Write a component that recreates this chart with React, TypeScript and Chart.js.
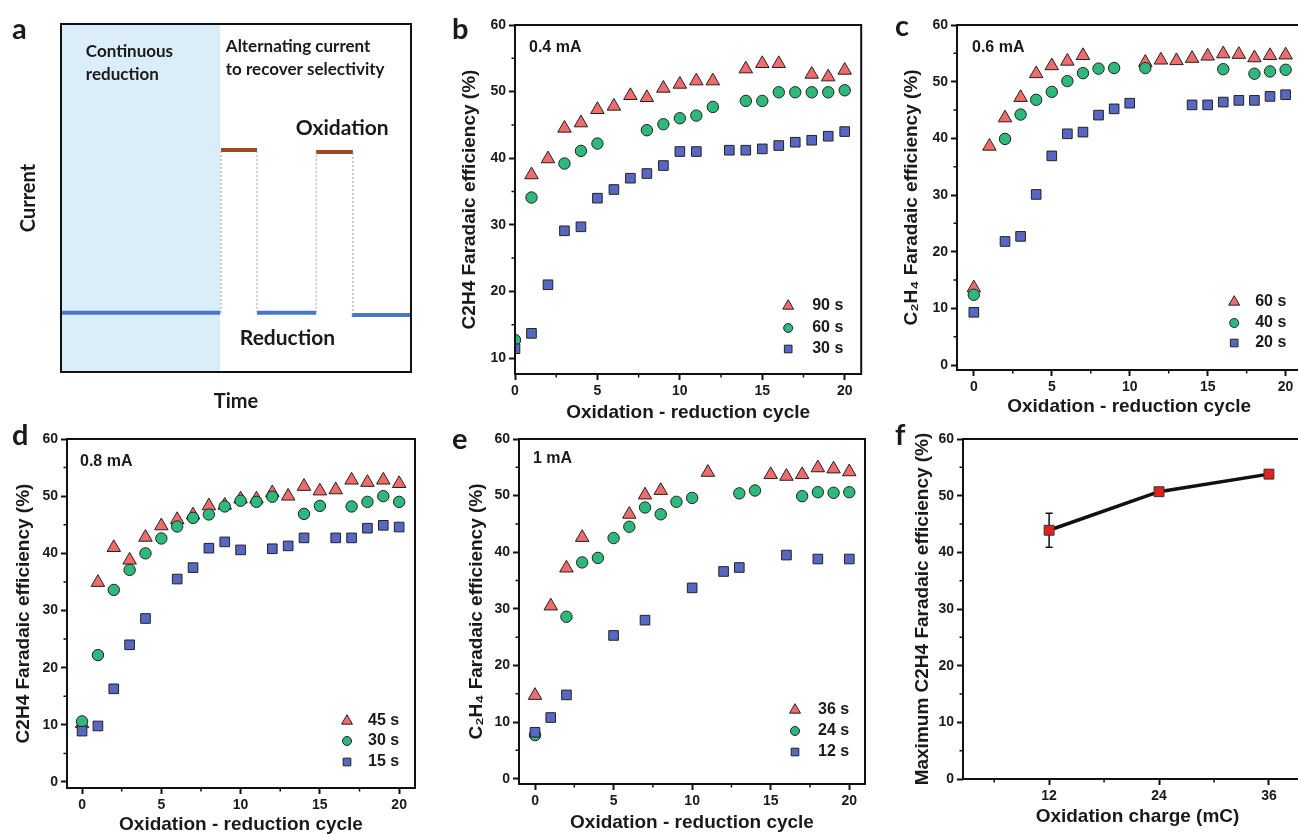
import { useEffect, useRef } from "react";
import Chart from "chart.js/auto";
import { drawPoint } from "chart.js/helpers";

const FONT = "'Liberation Sans', Arial, sans-serif";
const SCHEME_FONT = "Lato, 'Open Sans', sans-serif";
const INK = "#1a1a1a";

// ---- panel a: schematic, time / current in arbitrary units (0-100)
const continuousSpan = [0, 45.5];
const reductionSpans = [[0, 45.5], [56.0, 72.9], [83.1, 100]];
const reductionLevels = [17.0, 17.0, 16.4];
const oxidationSpans = [[45.7, 56.0], [72.9, 83.4]];
const oxidationLevels = [63.8, 63.2];

// ---- panels b-e: C2H4 FE vs oxidation-reduction cycle
const cycles = [0, 1, 2, 3, 4, 5, 6, 7, 8, 9, 10, 11, 12, 13, 14, 15, 16, 17, 18, 19, 20];

const b90 = [null, 37.5, 39.9, 44.5, 45.3, 47.3, 47.8, 49.4, 49.1, 50.5, 51.1, 51.6, 51.6, null, 53.4, 54.2, 54.2, null, 52.6, 52.2, 53.2];
const b60 = [12.7, 34.1, null, 39.2, 41.1, 42.2, null, null, 44.2, 45.1, 46.0, 46.4, 47.7, null, 48.6, 48.6, 49.9, 49.9, 49.9, 49.9, 50.2];
const b30 = [11.4, 13.7, 21.0, 29.1, 29.7, 34.0, 35.3, 37.0, 37.7, 38.9, 41.0, 41.0, null, 41.2, 41.2, 41.4, 41.9, 42.4, 42.7, 43.3, 44.0];

const c60 = [13.6, 38.6, 43.6, 47.2, 51.4, 52.8, 53.6, 54.6, null, null, null, 53.4, 53.8, 53.7, 54.1, 54.5, 54.9, 54.8, 54.2, 54.6, 54.7];
const c40 = [12.4, null, 39.9, 44.2, 46.8, 48.2, 50.1, 51.5, 52.3, 52.4, null, 52.4, null, null, null, null, 52.2, null, 51.4, 51.8, 52.1];
const c20 = [9.3, null, 21.8, 22.7, 30.1, 36.9, 40.8, 41.1, 44.1, 45.2, 46.2, null, null, null, 45.9, 45.9, 46.4, 46.7, 46.7, 47.4, 47.7];

const d45 = [10.2, 34.9, 41.0, 38.8, 42.8, 44.8, 45.9, 46.7, 48.3, 48.4, 49.5, 49.5, 50.6, 50.0, 51.7, 50.9, 51.1, 52.8, 52.4, 52.8, 52.2];
const d30 = [10.6, 22.2, 33.6, 37.1, 40.0, 42.6, 44.7, 46.2, 46.8, 48.2, 49.2, 49.0, 49.9, null, 46.9, 48.3, null, 48.2, 49.0, 50.0, 49.0];
const d15 = [8.9, 9.8, 16.3, 24.0, 28.6, null, 35.5, 37.5, 40.9, 42.0, 40.6, null, 40.8, 41.3, 42.7, null, 42.7, 42.7, 44.4, 44.9, 44.6];

const e36 = [14.7, 30.5, 37.2, 42.6, null, null, 46.7, 50.1, 50.9, null, null, 54.1, null, null, null, 53.7, 53.4, 53.7, 54.9, 54.7, 54.2];
const e24 = [7.7, null, 28.6, 38.2, 39.0, 42.5, 44.5, 47.9, 46.7, 48.9, 49.6, null, null, 50.4, 50.9, null, null, 49.9, 50.6, 50.5, 50.6];
const e12 = [8.2, 10.8, 14.8, null, null, 25.3, null, 28.0, null, null, 33.7, null, 36.6, 37.3, null, null, 39.5, null, 38.8, null, 38.8];

const cycleTicks = [0, 5, 10, 15, 20];
const cycleMinor = [2.5, 7.5, 12.5, 17.5];
const feTicks = [0, 10, 20, 30, 40, 50, 60];
const feTicksB = [10, 20, 30, 40, 50, 60];
const feMinor = [5, 15, 25, 35, 45, 55];
const feMinorB = [15, 25, 35, 45, 55];

// ---- panel f: max FE vs oxidation charge
const charges = [12, 24, 36];
const maxFE = [43.9, 50.7, 53.8];
const maxFEErr = [3.0, 0.5, 0.5];
const chargeTicks = [12, 24, 36];
const chargeMinor = [6, 18, 30];

type Box = { x: number; y: number; w: number; h: number };
type Area = { l: number; t: number; r: number; b: number };

const MARKERS = [
  { style: "triangle", r: 7.8, lr: 6.3, bg: "#f06c6c" },
  { style: "circle", r: 5.7, lr: 4.5, bg: "#2fb87d" },
  { style: "rect", r: 6.8, lr: 5.4, bg: "#5868c2" },
];

const toPoints = (xs: number[], ys: (number | null)[]) =>
  xs.flatMap((x, i) => (ys[i] == null ? [] : [{ x, y: ys[i] as number }]));

const framePlugin = {
  id: "frame",
  afterDatasetsDraw(chart: any) {
    const { ctx, chartArea: a } = chart;
    ctx.save();
    ctx.strokeStyle = "#111";
    ctx.lineWidth = 2;
    ctx.strokeRect(a.left, a.top, a.right - a.left, a.bottom - a.top);
    ctx.restore();
  },
};

const minorTicks = (xs: number[], ys: number[]) => ({
  id: "minorTicks",
  afterDraw(chart: any) {
    const { ctx, chartArea: a, scales } = chart;
    ctx.save();
    ctx.strokeStyle = "#111";
    ctx.lineWidth = 1.5;
    ctx.beginPath();
    xs.forEach((v) => {
      const px = scales.x.getPixelForValue(v);
      ctx.moveTo(px, a.bottom);
      ctx.lineTo(px, a.bottom + 3.5);
    });
    ys.forEach((v) => {
      const py = scales.y.getPixelForValue(v);
      ctx.moveTo(a.left, py);
      ctx.lineTo(a.left - 3.5, py);
    });
    ctx.stroke();
    ctx.restore();
  },
});

type Note = { text: string; x: number; y: number; ref: "data" | "area" | "canvas"; font: string; baseline?: CanvasTextBaseline };

const notes = (items: Note[]) => ({
  id: "notes",
  afterDraw(chart: any) {
    const { ctx, chartArea: a, scales } = chart;
    ctx.save();
    ctx.fillStyle = INK;
    items.forEach((n) => {
      let x = n.x;
      let y = n.y;
      if (n.ref === "data") {
        x = scales.x.getPixelForValue(n.x);
        y = scales.y.getPixelForValue(n.y);
      } else if (n.ref === "area") {
        x = a.left + n.x;
        y = a.top + n.y;
      }
      ctx.font = n.font;
      ctx.textAlign = "left";
      ctx.textBaseline = n.baseline || "middle";
      ctx.fillText(n.text, x, y);
    });
    ctx.restore();
  },
});

const legendBox = (labels: string[], mx: number, tx: number, rows: number[]) => ({
  id: "legendBox",
  afterDraw(chart: any) {
    const { ctx, chartArea: a } = chart;
    ctx.save();
    labels.forEach((label, i) => {
      const m = MARKERS[i];
      const y = a.bottom + rows[i];
      ctx.fillStyle = m.bg;
      ctx.strokeStyle = "#222";
      ctx.lineWidth = 1;
      drawPoint(ctx, { pointStyle: m.style as any, radius: m.lr, rotation: 0, borderWidth: 1 }, a.right + mx, y);
      ctx.fillStyle = INK;
      ctx.font = `bold 16px ${FONT}`;
      ctx.textAlign = "left";
      ctx.textBaseline = "middle";
      ctx.fillText(label, a.right + tx, y);
    });
    ctx.restore();
  },
});

const errorBars = {
  id: "errorBars",
  beforeDatasetsDraw(chart: any) {
    const { ctx, scales } = chart;
    ctx.save();
    ctx.strokeStyle = "#111";
    ctx.lineWidth = 1.5;
    ctx.beginPath();
    charges.forEach((c, i) => {
      const px = scales.x.getPixelForValue(c);
      const hi = scales.y.getPixelForValue(maxFE[i] + maxFEErr[i]);
      const lo = scales.y.getPixelForValue(maxFE[i] - maxFEErr[i]);
      ctx.moveTo(px, hi);
      ctx.lineTo(px, lo);
      ctx.moveTo(px - 3.5, hi);
      ctx.lineTo(px + 3.5, hi);
      ctx.moveTo(px - 3.5, lo);
      ctx.lineTo(px + 3.5, lo);
    });
    ctx.stroke();
    ctx.restore();
  },
};

type AxisOpts = {
  min: number;
  max: number;
  ticks: number[] | null;
  title: string;
  titleFont: any;
  titlePad: number;
  size: number;
};

function axis(o: AxisOpts, isX: boolean) {
  return {
    type: "linear",
    min: o.min,
    max: o.max,
    afterBuildTicks: (s: any) => {
      if (o.ticks) s.ticks = o.ticks.map((v) => ({ value: v }));
    },
    afterFit: (s: any) => {
      if (isX) s.height = o.size;
      else s.width = o.size;
      s.paddingTop = 0;
      s.paddingBottom = 0;
      s.paddingLeft = 0;
      s.paddingRight = 0;
    },
    ticks: {
      display: !!o.ticks,
      autoSkip: false,
      maxRotation: 0,
      padding: 3,
      color: INK,
      font: { family: FONT, weight: "bold", size: 14 },
    },
    grid: {
      display: !!o.ticks,
      drawOnChartArea: false,
      drawTicks: true,
      tickLength: 6,
      tickWidth: 2,
      tickColor: "#111",
    },
    border: { display: false },
    title: {
      display: true,
      text: o.title,
      color: INK,
      font: o.titleFont,
      padding: isX ? { top: 0, bottom: o.titlePad } : { top: o.titlePad, bottom: 0 },
    },
  };
}

function baseOptions(box: Box, area: Area, x: any, y: any) {
  return {
    responsive: false,
    animation: false,
    events: [],
    layout: { padding: { top: area.t, right: box.w - area.r, left: 0, bottom: 0 } },
    plugins: { legend: { display: false }, tooltip: { enabled: false } },
    scales: { x, y },
  };
}

const axisTitleFont = { family: FONT, weight: "bold", size: 19, lineHeight: 1 };
const letterFont = `bold 29px ${SCHEME_FONT}`;

type ScatterPanel = {
  box: Box;
  area: Area;
  letter: [string, number, number];
  current: string;
  currentAt: [number, number];
  series: (number | null)[][];
  labels: string[];
  xRange: [number, number];
  yRange: [number, number];
  yTicks: number[];
  yMinor: number[];
  yTitle: string;
  yTitlePad: number;
  xTitlePad: number;
  legend: [number, number, number[]];
};

const scatterPanels: ScatterPanel[] = [
  {
    box: { x: 440, y: 0, w: 430, h: 430 },
    area: { l: 75, t: 25, r: 424, b: 374 },
    letter: ["b", 12, 39],
    current: "0.4 mA",
    currentAt: [14, 23],
    series: [b90, b60, b30],
    labels: ["90 s", "60 s", "30 s"],
    xRange: [0, 21],
    yRange: [7.6, 60],
    yTicks: feTicksB,
    yMinor: feMinorB,
    yTitle: "C2H4 Faradaic efficiency (%)",
    yTitlePad: 20.5,
    xTitlePad: 7.5,
    legend: [-73, -49, [-68, -46, -25]],
  },
  {
    box: { x: 870, y: 0, w: 440, h: 430 },
    area: { l: 87, t: 25, r: 434, b: 370 },
    letter: ["c", 25, 36],
    current: "0.6 mA",
    currentAt: [15, 23],
    series: [c60, c40, c20],
    labels: ["60 s", "40 s", "20 s"],
    xRange: [-1.08, 21],
    yRange: [-0.88, 60],
    yTicks: feTicks,
    yMinor: feMinor,
    yTitle: "C\u2082H\u2084 Faradaic efficiency (%)",
    yTitlePad: 32.5,
    xTitlePad: 13.5,
    legend: [-67, -46, [-68, -47, -27]],
  },
  {
    box: { x: 0, y: 420, w: 440, h: 420 },
    area: { l: 67, t: 19, r: 415, b: 368 },
    letter: ["d", 12, 25],
    current: "0.8 mA",
    currentAt: [13, 23],
    series: [d45, d30, d15],
    labels: ["45 s", "30 s", "15 s"],
    xRange: [-0.95, 21],
    yRange: [-1.05, 60],
    yTicks: feTicks,
    yMinor: feMinor,
    yTitle: "C2H4 Faradaic efficiency (%)",
    yTitlePad: 14,
    xTitlePad: 5.5,
    legend: [-68, -47, [-67, -47, -26]],
  },
  {
    box: { x: 450, y: 420, w: 430, h: 420 },
    area: { l: 69, t: 19, r: 415, b: 364 },
    letter: ["e", 2, 29],
    current: "1 mA",
    currentAt: [14, 20],
    series: [e36, e24, e12],
    labels: ["36 s", "24 s", "12 s"],
    xRange: [-1.02, 21],
    yRange: [-0.94, 60],
    yTicks: feTicks,
    yMinor: feMinor,
    yTitle: "C\u2082H\u2084 Faradaic efficiency (%)",
    yTitlePad: 17.5,
    xTitlePad: 8,
    legend: [-70, -47, [-74, -53, -32]],
  },
];

function scatterConfig(p: ScatterPanel) {
  const x = axis(
    { min: p.xRange[0], max: p.xRange[1], ticks: cycleTicks, title: "Oxidation - reduction cycle", titleFont: axisTitleFont, titlePad: p.xTitlePad, size: p.box.h - p.area.b },
    true
  );
  const y = axis(
    { min: p.yRange[0], max: p.yRange[1], ticks: p.yTicks, title: p.yTitle, titleFont: axisTitleFont, titlePad: p.yTitlePad, size: p.area.l },
    false
  );
  return {
    type: "scatter",
    data: {
      datasets: p.series.map((vals, i) => ({
        label: p.labels[i],
        data: toPoints(cycles, vals),
        pointStyle: MARKERS[i].style,
        pointRadius: MARKERS[i].r,
        backgroundColor: MARKERS[i].bg,
        borderColor: "#222",
        borderWidth: 1,
        order: 3 - i,
        clip: 0,
      })),
    },
    options: baseOptions(p.box, p.area, x, y),
    plugins: [
      framePlugin,
      minorTicks(cycleMinor, p.yMinor),
      legendBox(p.labels, p.legend[0], p.legend[1], p.legend[2]),
      notes([
        { text: p.current, x: p.currentAt[0], y: p.currentAt[1], ref: "area", font: `bold 16px ${FONT}` },
        { text: p.letter[0], x: p.letter[1], y: p.letter[2], ref: "canvas", font: letterFont, baseline: "alphabetic" },
      ]),
    ],
  };
}

const boxA: Box = { x: 0, y: 0, w: 440, h: 430 };
const areaA: Area = { l: 61, t: 24, r: 411, b: 372 };

function schemeConfig() {
  const schemeTitle = { family: SCHEME_FONT, weight: "bold", size: 20, lineHeight: 1 };
  const x = axis({ min: 0, max: 100, ticks: null, title: "Time", titleFont: schemeTitle, titlePad: 18, size: boxA.h - areaA.b }, true);
  const y = axis({ min: 0, max: 100, ticks: null, title: "Current", titleFont: schemeTitle, titlePad: 19, size: areaA.l }, false);
  const line = (pts: { x: number; y: number }[], color: string, width: number, dash: number[] = []) => ({
    data: pts,
    borderColor: color,
    borderWidth: width,
    borderDash: dash,
    borderCapStyle: "butt",
    pointRadius: 0,
    fill: false,
  });
  const edges = oxidationSpans.flatMap((span, i) =>
    span.map((ex, j) =>
      line(
        [
          { x: ex, y: reductionLevels[i + j] },
          { x: ex, y: oxidationLevels[i] },
        ],
        "#9a9a9a",
        1,
        [2, 2]
      )
    )
  );
  const sText = `bold 17px ${SCHEME_FONT}`;
  const bigText = `bold 21px ${SCHEME_FONT}`;
  return {
    type: "line",
    data: {
      datasets: [
        {
          data: [
            { x: continuousSpan[0], y: 100 },
            { x: continuousSpan[1], y: 100 },
          ],
          borderWidth: 0,
          pointRadius: 0,
          backgroundColor: "#dcedfa",
          fill: "start",
          order: 10,
        },
        ...edges,
        ...reductionSpans.map((s, i) =>
          line(
            [
              { x: s[0], y: reductionLevels[i] },
              { x: s[1], y: reductionLevels[i] },
            ],
            "#4a76c6",
            4
          )
        ),
        ...oxidationSpans.map((s, i) =>
          line(
            [
              { x: s[0], y: oxidationLevels[i] },
              { x: s[1], y: oxidationLevels[i] },
            ],
            "#9b4a1f",
            4
          )
        ),
      ],
    },
    options: baseOptions(boxA, areaA, x, y),
    plugins: [
      framePlugin,
      notes([
        { text: "Continuous", x: 7.1, y: 92.2, ref: "data", font: sText },
        { text: "reduction", x: 7.1, y: 85.6, ref: "data", font: sText },
        { text: "Alternating current", x: 47.1, y: 93.4, ref: "data", font: sText },
        { text: "to recover selectivity", x: 47.1, y: 86.8, ref: "data", font: sText },
        { text: "Oxidation", x: 67.1, y: 70.1, ref: "data", font: bigText },
        { text: "Reduction", x: 51.1, y: 9.8, ref: "data", font: bigText },
        { text: "a", x: 12, y: 39, ref: "canvas", font: letterFont, baseline: "alphabetic" },
      ]),
    ],
  };
}

const boxF: Box = { x: 880, y: 420, w: 440, h: 420 };
const areaF: Area = { l: 83, t: 19, r: 432, b: 359 };

function maxConfig() {
  const x = axis({ min: 2.6, max: 40.7, ticks: chargeTicks, title: "Oxidation charge (mC)", titleFont: axisTitleFont, titlePad: 13.5, size: boxF.h - areaF.b }, true);
  const y = axis({ min: 0, max: 60, ticks: feTicks, title: "Maximum C2H4 Faradaic efficiency (%)", titleFont: axisTitleFont, titlePad: 33.5, size: areaF.l }, false);
  return {
    type: "line",
    data: {
      datasets: [
        {
          data: toPoints(charges, maxFE),
          borderColor: "#111",
          borderWidth: 3.5,
          pointStyle: "rect",
          pointRadius: 7,
          pointBackgroundColor: "#e3221d",
          pointBorderColor: "#333",
          pointBorderWidth: 1,
          fill: false,
        },
      ],
    },
    options: baseOptions(boxF, areaF, x, y),
    plugins: [
      errorBars,
      framePlugin,
      minorTicks(chargeMinor, feMinor),
      notes([{ text: "f", x: 15, y: 25, ref: "canvas", font: letterFont, baseline: "alphabetic" }]),
    ],
  };
}

function Panel({ box, build }: { box: Box; build: () => any }) {
  const canvasRef = useRef<HTMLCanvasElement | null>(null);
  useEffect(() => {
    if (!canvasRef.current) return;
    const chart = new Chart(canvasRef.current, build());
    return () => chart.destroy();
  }, []);
  return (
    <canvas
      ref={canvasRef}
      width={box.w}
      height={box.h}
      style={{ position: "absolute", left: box.x, top: box.y, width: box.w, height: box.h }}
    />
  );
}

export default function App() {
  return (
    <div style={{ position: "fixed", left: 0, top: 0, width: 1298, height: 834, overflow: "hidden", background: "#fff" }}>
      <Panel box={boxA} build={schemeConfig} />
      {scatterPanels.map((p, i) => (
        <Panel key={i} box={p.box} build={() => scatterConfig(p)} />
      ))}
      <Panel box={boxF} build={maxConfig} />
    </div>
  );
}
